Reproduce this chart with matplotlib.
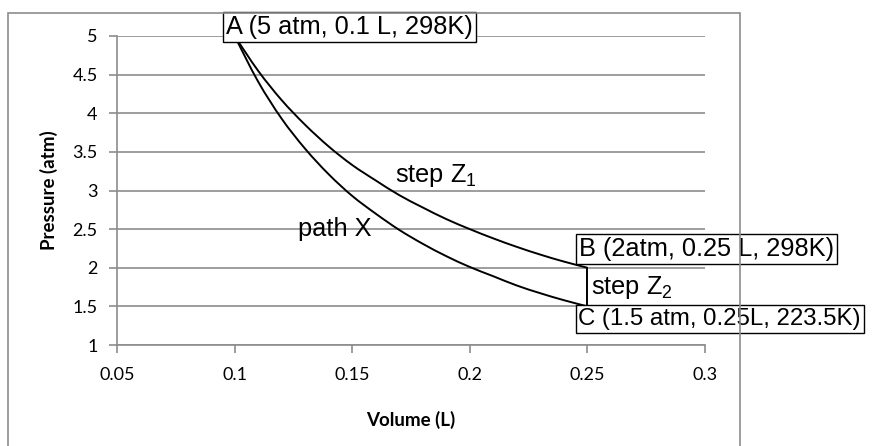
import numpy as np
import matplotlib
matplotlib.use("Agg")
import matplotlib.pyplot as plt
from matplotlib.patches import Rectangle, PathPatch
from matplotlib.path import Path

# values
volume = [0.10, 0.11, 0.12, 0.13, 0.14, 0.15, 0.16, 0.17, 0.18,
          0.19, 0.20, 0.21, 0.22, 0.23, 0.24, 0.25]
path_x = [5.00, 4.41, 3.93, 3.54, 3.21, 2.93, 2.70, 2.49, 2.31,
          2.15, 2.01, 1.89, 1.77, 1.67, 1.58, 1.50]
step_z1 = [5.00, 4.55, 4.17, 3.85, 3.57, 3.33, 3.13, 2.94, 2.78,
           2.63, 2.50, 2.38, 2.27, 2.17, 2.08, 2.00]
step_z2_v = [0.25, 0.25]
step_z2_p = [2.00, 1.50]

x_ticks = [0.05, 0.1, 0.15, 0.2, 0.25, 0.3]
x_labels = ["0.05", "0.1", "0.15", "0.2", "0.25", "0.3"]
y_ticks = [1, 1.5, 2, 2.5, 3, 3.5, 4, 4.5, 5]
y_labels = ["1", "1.5", "2", "2.5", "3", "3.5", "4", "4.5", "5"]

grey = "#8c8c8c"
tick_font = "Lato"
note_font = "Liberation Sans"
note_size = 18.3

plt.rcParams["mathtext.fontset"] = "custom"
plt.rcParams["mathtext.rm"] = note_font
plt.rcParams["mathtext.it"] = note_font


#smooth line through the points, like excel's smoothed scatter (catmull-rom as bezier)
def smooth_path(xs, ys):
    pts = np.column_stack([xs, ys])
    verts = [pts[0]]
    codes = [Path.MOVETO]
    n = len(pts)
    for i in range(n - 1):
        p0 = pts[max(i - 1, 0)]
        p1 = pts[i]
        p2 = pts[i + 1]
        p3 = pts[min(i + 2, n - 1)]
        c1 = p1 + (p2 - p0) / 6.0
        c2 = p2 - (p3 - p1) / 6.0
        verts += [c1, c2, p2]
        codes += [Path.CURVE4] * 3
    return Path(verts, codes)


fig = plt.figure(figsize=(8.74, 4.46), dpi=100)
ax = fig.add_axes([117 / 874, 1 - 345 / 446, 588 / 874, 309 / 446])

#outer chart border (runs off the bottom of the picture)
fig.patches.append(Rectangle((8 / 874, -0.05), 732 / 874, 1 - 13 / 446 + 0.05,
                             transform=fig.transFigure, fill=False,
                             edgecolor=grey, linewidth=1.2))

for ys in [path_x, step_z1]:
    ax.add_patch(PathPatch(smooth_path(volume, ys), facecolor="none",
                           edgecolor="black", linewidth=1.4, clip_on=False))
ax.plot(step_z2_v, step_z2_p, color="black", linewidth=1.4, clip_on=False)

ax.set_xlim(0.05, 0.3)
ax.set_ylim(1, 5)
ax.set_xticks(x_ticks)
ax.set_xticklabels(x_labels, fontfamily=tick_font, fontsize=13)
ax.set_yticks(y_ticks)
ax.set_yticklabels(y_labels, fontfamily=tick_font, fontsize=13)
ax.yaxis.grid(True, color=grey, linewidth=1.2)
ax.set_axisbelow(True)

for s in ["top", "right"]:
    ax.spines[s].set_visible(False)
for s in ["left", "bottom"]:
    ax.spines[s].set_color(grey)
    ax.spines[s].set_linewidth(1.2)
ax.tick_params(axis="both", color=grey, width=1.2, length=6, direction="out")
ax.tick_params(axis="x", pad=10)
ax.tick_params(axis="y", pad=8)

ax.set_xlabel("Volume (L)", fontfamily=tick_font, fontweight="bold", fontsize=13.5, labelpad=20)
ax.set_ylabel("Pressure (atm)", fontfamily=tick_font, fontweight="bold", fontsize=13.5, labelpad=10)

#point labels with boxes
box = dict(boxstyle="square,pad=0.12", facecolor="white", edgecolor="black", linewidth=1)
ax.text(0.0963, 5.12, "A (5 atm, 0.1 L, 298K)", fontfamily=note_font, fontsize=note_size,
        va="center", ha="left", bbox=box, clip_on=False)
ax.text(0.2465, 2.24, "B (2atm, 0.25 L, 298K)", fontfamily=note_font, fontsize=note_size,
        va="center", ha="left", bbox=box, clip_on=False)
ax.text(0.2462, 1.34, "C (1.5 atm, 0.25L, 223.5K)", fontfamily=note_font, fontsize=17.3,
        va="center", ha="left", bbox=box, clip_on=False)

ax.text(0.168, 3.2, "step Z$_1$", fontfamily=note_font, fontsize=note_size, va="center", ha="left")
ax.text(0.127, 2.5, "path X", fontfamily=note_font, fontsize=note_size, va="center", ha="left")
ax.text(0.2515, 1.75, "step Z$_2$", fontfamily=note_font, fontsize=note_size, va="center", ha="left",
        clip_on=False)

fig.savefig("out.png", dpi=100)
